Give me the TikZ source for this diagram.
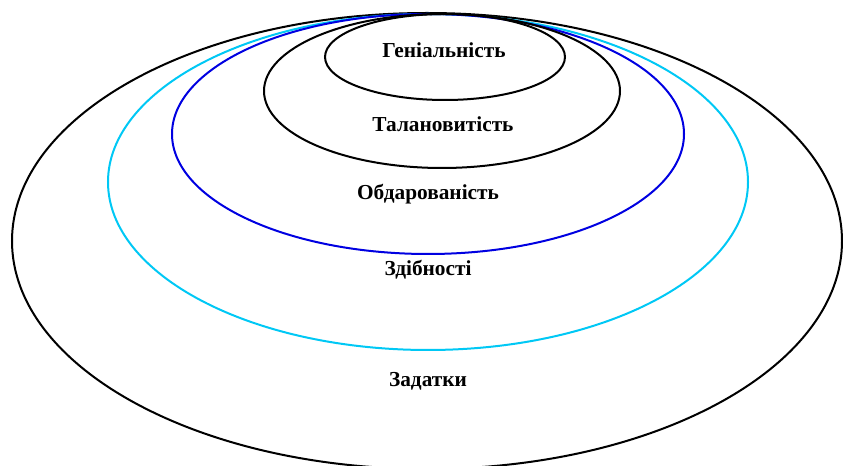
\documentclass[tikz,border=0pt]{standalone}
\usepackage{fontspec}
\setmainfont{Liberation Serif}
\definecolor{skyring}{RGB}{0,200,245}
\definecolor{bluering}{RGB}{0,0,225}

\begin{document}
\begin{tikzpicture}[x=0.75pt, y=-0.75pt,
ring/.style={line width=1.5pt},
lbl/.style={font=\bfseries\fontsize{16}{19}\selectfont, inner sep=0pt}]
\useasboundingbox (0,0) rectangle (843,466);
\begin{scope}
\clip (0,0) rectangle (843,466);
\draw[ring] (427,241) ellipse [x radius=415, y radius=228];
\end{scope}
\draw[ring, skyring] (428,182) ellipse [x radius=320, y radius=168];
\draw[ring, bluering] (428,134) ellipse [x radius=256, y radius=120];
\draw[ring] (442,91) ellipse [x radius=178, y radius=77];
\draw[ring] (445,57) ellipse [x radius=120, y radius=43];
\node[lbl] (genius) at (444,50) {Геніальність};
\node[lbl] (talent) at (443,124) {Талановитість};
\node[lbl] (gifted) at (428,194) {Обдарованість};
\node[lbl] (ability) at (428,270) {Здібності};
\node[lbl] (inclin) at (428,381) {Задатки};
\end{tikzpicture}
\end{document}
